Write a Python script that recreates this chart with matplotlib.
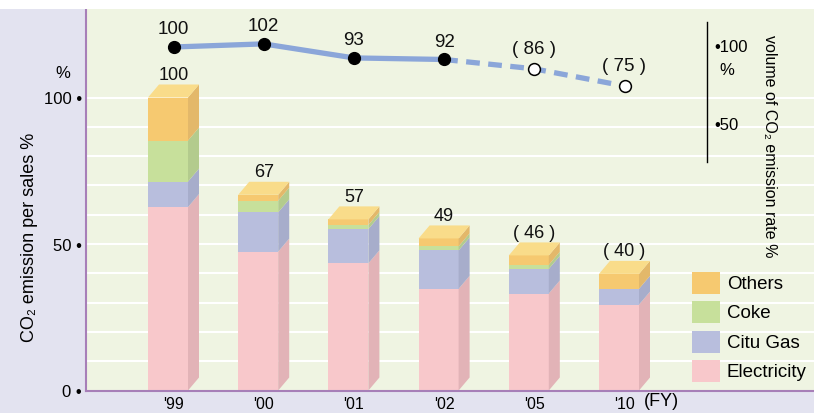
import matplotlib
matplotlib.use("Agg")
import matplotlib.pyplot as plt
from matplotlib.patches import Polygon, Rectangle
import numpy as np

plt.rcParams['font.family'] = ['Liberation Sans', 'DejaVu Sans']

# ---------------- data ----------------
years = ["'99", "'00", "'01", "'02", "'05", "'10"]
electricity = [62.6, 47.4, 43.4, 34.7, 33.1, 29.3]
city_gas = [8.7, 13.4, 11.7, 13.1, 8.4, 5.4]
coke = [14.0, 4.0, 1.4, 1.4, 1.4, 0.0]
others = [14.7, 2.0, 1.9, 2.7, 3.2, 5.1]
total_labels = ["100", "67", "57", "49", "( 46 )", "( 40 )"]
volume = [100, 102, 93, 92, 86, 75]
volume_labels = ["100", "102", "93", "92", "( 86 )", "( 75 )"]
n_actual = 4  # first four are actual results, rest are projections

series = [("Electricity", electricity), ("Citu Gas", city_gas), ("Coke", coke), ("Others", others)]
front_col = {"Electricity": "#f8c8cb", "Citu Gas": "#b8bedd", "Coke": "#c7e09b", "Others": "#f6c970"}
side_col = {"Electricity": "#e2b3b7", "Citu Gas": "#a7adcb", "Coke": "#b3cb8d", "Others": "#e3b86a"}
top_col = "#f9dc8a"

# ---------------- figure ----------------
W, H = 814, 414
fig = plt.figure(figsize=(W / 100, H / 100), dpi=100)
fig.patch.set_facecolor("#e3e3f0")
fig.patches.append(Rectangle((0, 1 - 10 / H), 1, 10 / H, transform=fig.transFigure,
                             facecolor="white", edgecolor="none", zorder=0))

x0, y_bot, y_top = 86, 391.5, 10
ax = fig.add_axes([x0 / W, (H - y_bot) / H, (W - x0) / W, (y_bot - y_top) / H])
ax.set_facecolor("#eff4e2")

pxu = 90.2            # pixels per category
c0 = 168              # pixel x of first bar centre
ax.set_xlim((x0 - c0) / pxu, (W - c0) / pxu)
ypx = 2.93            # pixels per % unit
ax.set_ylim(0, (y_bot - y_top) / ypx)

for g in range(10, 101, 10):
    ax.axhline(g, color="white", lw=1.5, zorder=1)

x = np.arange(len(years))
w = 40 / pxu
dx = 11 / pxu
dy = 13 / ypx

bottom = np.zeros(len(years))
for name, vals in series:
    vals = np.array(vals, dtype=float)
    ax.bar(x, vals, width=w, bottom=bottom, color=front_col[name], edgecolor="none", zorder=3)
    for i in range(len(x)):
        if vals[i] <= 0:
            continue
        b, t = bottom[i], bottom[i] + vals[i]
        xr = x[i] + w / 2
        ax.add_patch(Polygon([(xr, b), (xr + dx, b + dy), (xr + dx, t + dy), (xr, t)],
                             closed=True, facecolor=side_col[name], edgecolor="none", zorder=3))
    bottom = bottom + vals

for i in range(len(x)):
    t = bottom[i]
    xl, xr = x[i] - w / 2, x[i] + w / 2
    ax.add_patch(Polygon([(xl, t), (xl + dx, t + dy), (xr + dx, t + dy), (xr, t)],
                         closed=True, facecolor=top_col, edgecolor="none", zorder=3))
    ax.text(x[i] + dx / 2, t + dy + 10 / ypx, total_labels[i], ha="center", va="center",
            fontsize=13, color="#111111", zorder=5)

for s in ["top", "right"]:
    ax.spines[s].set_visible(False)
for s in ["left", "bottom"]:
    ax.spines[s].set_color("#a77fb8")
    ax.spines[s].set_linewidth(1.5)
    ax.spines[s].set_zorder(6)

ax.set_yticks([0, 50, 100])
ax.set_yticklabels(["0 \u2022", "50 \u2022", "100 \u2022"], fontsize=12)
ax.tick_params(axis="y", length=0, pad=3)
ax.set_xticks(x + dx / 2)
ax.set_xticklabels(years, fontsize=11.5)
ax.tick_params(axis="x", length=0, pad=4)

ax.text((63 - x0) / (W - x0), 100 + 25 / ypx, "%", transform=ax.get_yaxis_transform(),
        ha="center", va="center", fontsize=12)
fig.text(29 / W, 1 - 237 / H, "CO\u2082 emission per sales %", rotation=90, ha="center",
         va="center", fontsize=13)
fig.text(644 / W, 1 - 402 / H, "(FY)", ha="left", va="center", fontsize=13)

# ---------------- volume line (secondary scale) ----------------
ax2 = ax.twinx()
vpx = 1.56
zero_px = 204
ax2.set_ylim((zero_px - y_bot) / vpx, (zero_px - y_top) / vpx)
ax2.axis("off")
lx = x + dx / 2
lc = "#8ba6d9"
ax2.plot(lx[:n_actual], volume[:n_actual], color=lc, lw=3.8, solid_capstyle="round", zorder=4)
ax2.plot(lx[n_actual - 1:], volume[n_actual - 1:], color=lc, lw=3.8, ls=(0, (2.6, 1.6)), zorder=4)
ax2.plot(lx[:n_actual], volume[:n_actual], "o", color="black", ms=8.5, zorder=5)
ax2.plot(lx[n_actual:], volume[n_actual:], "o", mfc="white", mec="black", mew=1.1, ms=8.5, zorder=5)
for i in range(len(lx)):
    off = 13 if i < n_actual else 14.5
    ax2.annotate(volume_labels[i], (lx[i], volume[i]), xytext=(0, off), textcoords="offset points",
                 ha="center", va="center", fontsize=13.5, color="#111111")

# secondary axis drawn inside the plot
ax_x = (707 - c0) / pxu
ax2.plot([ax_x, ax_x], [(zero_px - 23) / vpx, (zero_px - 163) / vpx], color="black", lw=1.0, zorder=4)
tick_x = (714 - c0) / pxu
for v in [100, 50]:
    ax2.text(tick_x, v, "\u2022" + str(v), ha="left", va="center", fontsize=12)
ax2.text((727 - c0) / pxu, (zero_px - 71) / vpx, "%", ha="center", va="center", fontsize=12)
fig.text(769 / W, 1 - 146 / H, "volume of CO\u2082 emission rate %", rotation=270,
         ha="center", va="center", fontsize=11.5)

# ---------------- legend ----------------
leg_items = [("Others", 273), ("Coke", 302), ("Citu Gas", 332), ("Electricity", 361)]
for name, ytop in leg_items:
    fig.patches.append(Rectangle((692 / W, 1 - (ytop + 22) / H), 28 / W, 22 / H,
                                 transform=fig.transFigure, facecolor=front_col[name],
                                 edgecolor="none", zorder=5))
    fig.text(727 / W, 1 - (ytop + 12) / H, name, ha="left", va="center", fontsize=13.5, zorder=6)

fig.savefig("out.png", dpi=100, facecolor=fig.get_facecolor())
